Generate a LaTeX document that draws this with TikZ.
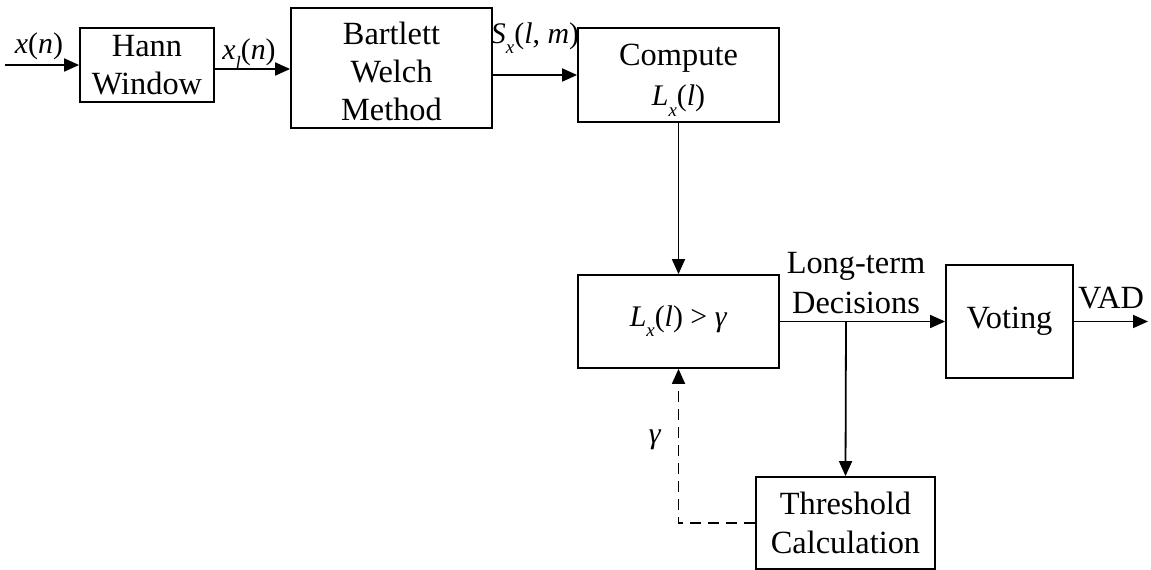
\documentclass[tikz,border=0pt]{standalone}
\usepackage{fontspec}
\setmainfont{Liberation Serif}
\usetikzlibrary{arrows.meta}
% italic variable with a lowered, smaller subscript
\newcommand{\vsub}[2]{\textit{#1}\raisebox{-0.34em}{\fontsize{19}{19}\selectfont\textit{#2}}}
\newcommand{\mathsize}{\fontsize{30}{36}\selectfont}
\begin{document}
\begin{tikzpicture}[x=1bp,y=-1bp,
  every node/.style={font=\fontsize{32.5}{38}\selectfont},
  blk/.style={draw,line width=1.8bp,align=center,inner sep=0pt},
  arr/.style={line width=1.8bp,-{Triangle[length=15bp,width=13bp]}},
  lab/.style={inner sep=0pt}]
\useasboundingbox (0,0) rectangle (1151,570);

% processing blocks (struts on the first line set the text a little lower)
\node[blk,minimum width=134bp,minimum height=74bp] (hann) at (147,65) {Hann\\Window};
\node[blk,minimum width=201bp,minimum height=120bp] (bw) at (391.5,68) {\rule{0pt}{30bp}Bartlett\\Welch\\Method};
\node[blk,minimum width=201bp,minimum height=94bp,font=\fontsize{32.5}{40}\selectfont] (comp) at (678.5,75) {\rule{0pt}{32bp}Compute\\{\mathsize\vsub{L}{x}(\textit{l})}};
\node[blk,minimum width=201bp,minimum height=93bp] (cmp) at (678.5,321.5) {\mathsize\vsub{L}{x}(\textit{l}) > \textit{γ}};
\node[blk,minimum width=127bp,minimum height=113bp] (vote) at (1009.5,321.5) {Voting};
\node[blk,minimum width=179bp,minimum height=92bp,font=\fontsize{32.5}{39}\selectfont] (thr) at (845.5,523) {Threshold\\Calculation};

% free ends, branch point and the start of the windowed-signal arrow
\coordinate (in) at (5,65);
\coordinate (out) at (1148,321.5);
\coordinate (br) at (846,321.5);
\coordinate (xs) at ([yshift=-4bp]hann.east);

% signal flow
\draw[arr] (in) -- (hann.west);
\draw[arr] (xs) -- (bw.west |- xs);
\draw[arr] (comp.west -| bw.east) -- (comp.west);
\draw[arr] (comp.south) -- (cmp.north);
\draw[arr] (cmp.east) -- (vote.west);
\draw[arr] (br) -- (thr.north);
\draw[arr] (vote.east) -- (out);
\draw[arr,dashed,dash pattern=on 11bp off 7bp] (thr.west) -| (cmp.south);

% signal labels
\node[lab,font=\mathsize] (lx) at (39,46) {\textit{x}(\textit{n})};
\node[lab,font=\mathsize] (lxl) at (249,54) {\vsub{x}{l}(\textit{n})};
\node[lab,font=\mathsize] (lsx) at (535,38) {\vsub{S}{x}(\textit{l}, \textit{m})};
\node[lab,align=center,font=\fontsize{32.5}{40}\selectfont] (llt) at (856,283) {Long-term\\Decisions};
\node[lab] (lvad) at (1111,298) {VAD};
\node[lab,font=\mathsize] (lg) at (655,440) {\textit{γ}};
\end{tikzpicture}
\end{document}
